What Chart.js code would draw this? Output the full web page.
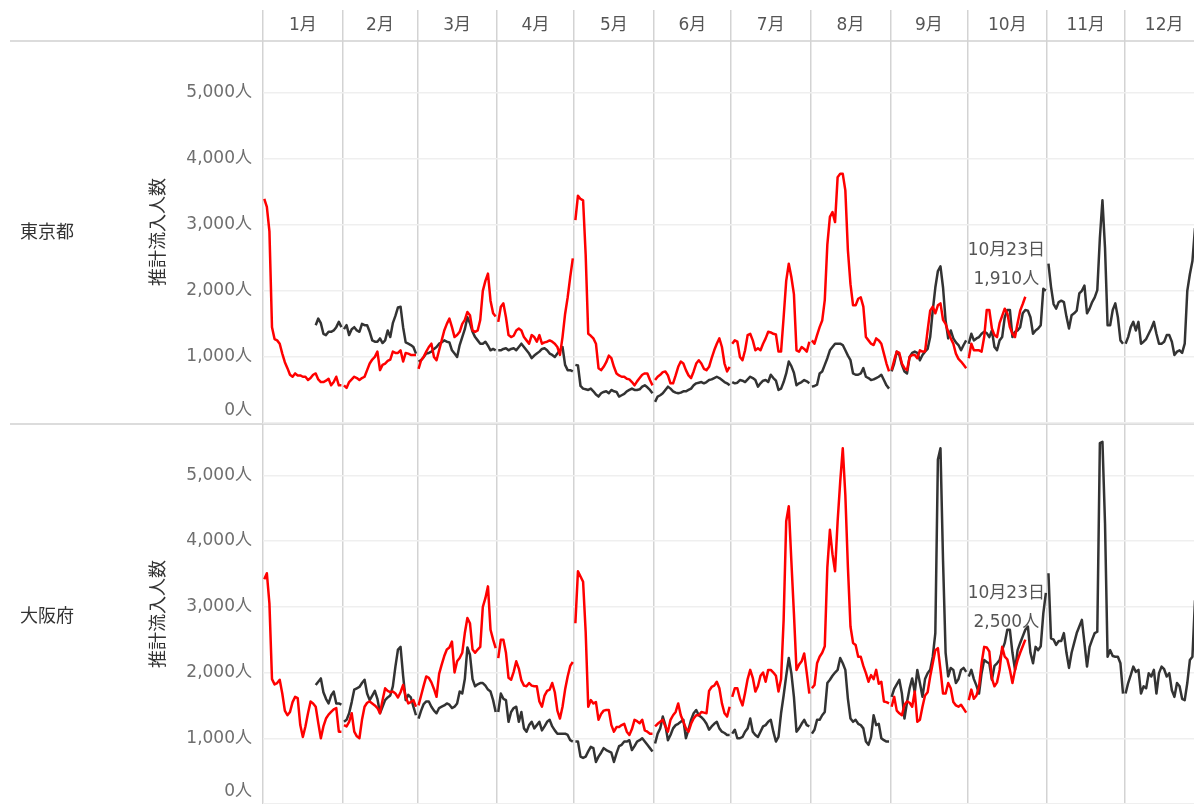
<!DOCTYPE html>
<html><head><meta charset="utf-8">
<script src="https://cdn.jsdelivr.net/npm/chart.js@4.4.1/dist/chart.umd.min.js"></script>
<style>
html,body{margin:0;padding:0;background:#fff;width:1194px;height:804px;overflow:hidden;}
#wrap{position:relative;width:1194px;height:804px;overflow:hidden;}
canvas{position:absolute;left:0;}
.rule{position:absolute;left:10px;width:1184px;height:2px;background:#dcdcdc;}
.row{position:absolute;left:20px;font-family:"Noto Sans CJK JP",sans-serif;font-size:18px;color:#333;line-height:20px;}
</style></head><body>
<div id="wrap">
<div class="rule" style="top:40px"></div>
<div class="rule" style="top:423px"></div>
<canvas id="c1" width="1210" height="440" style="top:0;width:1210px;height:440px"></canvas>
<canvas id="c2" width="1210" height="400" style="top:424px;width:1210px;height:400px"></canvas>
<div class="row" style="top:220px">東京都</div>
<div class="row" style="top:604px">大阪府</div>
</div>
<script>
// ---------- data ----------
const months = ['1月','2月','3月','4月','5月','6月','7月','8月','9月','10月','11月','12月'];
const monthDays = [31,29,31,30,31,30,31,31,30,31,30,31];
const yTicks = [0,1000,2000,3000,4000,5000];
const redFirstDay = 1;     // red series starts on Jan 1
const blackFirstDay = 21;  // black series starts on Jan 21

// 東京都 — red (Jan 1 – Oct 23)
const tokyoRed = [
  [3390,3270,2900,1450,1270,1250,1200,1050,920,830,730,700,750,720,720,700,700,650,680,730,750,660,620,620,640,670,570,620,700,570,570],
  [570,530,620,660,700,680,650,680,700,800,900,960,1000,1080,800,880,900,940,960,1080,1060,1060,1100,930,1060,1050,1030,1030,1030],
  [820,950,1000,1080,1150,1200,1000,950,1100,1250,1400,1500,1580,1450,1300,1330,1380,1500,1560,1680,1630,1400,1380,1400,1560,2000,2150,2260,1850,1660,1610],
  [1530,1760,1810,1600,1330,1300,1320,1400,1430,1400,1300,1250,1200,1330,1300,1230,1330,1200,1220,1230,1250,1230,1200,1150,1030,1300,1650,1900,2210,2490],
  [3070,3440,3390,3370,2550,1350,1320,1280,1200,830,800,850,920,1020,980,850,750,720,700,700,670,660,620,570,630,680,730,750,750,650,570],
  [650,700,730,770,780,720,600,600,720,850,930,900,800,720,680,780,900,950,900,820,800,850,980,1100,1200,1280,1150,900,780,850],
  [1200,1250,1230,1000,950,1100,1330,1350,1250,1100,1130,1100,1200,1280,1380,1370,1350,1340,1080,1080,1600,2150,2410,2210,1950,1100,1080,1150,1120,1080,1230],
  [1250,1200,1330,1450,1550,1860,2700,3120,3190,3040,3720,3770,3770,3520,2610,2100,1780,1780,1880,1900,1760,1300,1250,1200,1180,1280,1250,1200,1050,900,780],
  [800,950,1080,1060,900,830,800,1000,1030,1030,980,1100,1080,1080,1400,1700,1760,1660,1780,1810,1560,1500,1380,1280,1200,1050,970,930,880,830],
  [980,1200,1100,1100,1100,1080,1300,1710,1710,1430,1330,1300,1510,1620,1730,1660,1450,1350,1300,1510,1700,1800,1910]
];
// 東京都 — dark grey (Jan 21 – Dec)
const tokyoBlack = [
  [1480,1580,1510,1350,1330,1380,1380,1400,1450,1530,1450],
  [1420,1480,1330,1420,1450,1400,1380,1500,1480,1480,1380,1250,1230,1230,1280,1210,1250,1400,1300,1510,1620,1750,1760,1450,1220,1200,1180,1150,1050],
  [930,950,1000,1050,1060,1080,1120,1150,1200,1220,1250,1230,1220,1100,1050,1000,1180,1300,1420,1600,1510,1380,1300,1250,1200,1200,1230,1170,1100,1120,1100],
  [1100,1100,1120,1130,1100,1120,1130,1100,1150,1200,1150,1100,1050,980,1020,1050,1080,1120,1130,1100,1050,1030,1000,1050,1100,1150,880,800,800,780],
  [880,870,560,520,510,500,520,480,430,400,450,470,480,450,500,480,470,400,420,440,480,500,520,500,500,510,550,570,540,500,450],
  [320,400,420,450,500,550,520,480,460,450,460,480,480,500,520,570,600,610,620,600,620,650,660,680,700,680,650,620,600,570],
  [620,600,610,650,640,620,660,700,680,650,550,600,640,650,620,730,680,640,500,520,620,750,930,860,760,570,600,620,650,630,600],
  [550,560,580,750,780,880,980,1100,1150,1200,1200,1200,1180,1100,1020,950,750,730,730,750,830,700,680,650,660,680,700,730,650,570,520],
  [780,900,1080,1030,880,780,750,1000,1060,1080,1060,950,1030,1080,1120,1300,1700,2050,2300,2370,2050,1550,1280,1400,1280,1220,1180,1100,1180,1250],
  [1200,1350,1250,1280,1300,1350,1380,1360,1300,1400,1150,1100,1250,1300,1600,1710,1710,1300,1380,1400,1450,1660,1710,1700,1600,1350,1400,1430,1480,2030,2000],
  [2410,2060,1800,1730,1830,1850,1830,1610,1430,1630,1660,1700,1960,2000,2080,1660,1730,1830,1900,2010,2800,3370,2650,1480,1480,1710,1810,1600,1250,1200],
  [1200,1300,1450,1530,1400,1530,1200,1230,1270,1350,1430,1530,1350,1200,1200,1230,1330,1330,1230,1030,1080,1100,1060,1200,2000,2250,2450,2950]
];
// 大阪府 — red (Jan 1 – Oct 23)
const osakaRed = [
  [3420,3510,3050,1900,1820,1840,1890,1680,1420,1350,1400,1550,1630,1610,1200,1020,1180,1380,1560,1530,1480,1230,1000,1180,1300,1360,1400,1440,1460,1100,1100],
  [1200,1180,1250,1380,1100,1030,1000,1280,1480,1540,1560,1530,1500,1460,1380,1580,1760,1720,1700,1710,1680,1620,1700,1810,1630,1530,1550,1580,1480],
  [1500,1650,1800,1940,1920,1850,1750,1630,1980,2120,2250,2350,2380,2470,2000,2170,2220,2300,2600,2830,2750,2350,2300,2350,2390,3000,3130,3310,2650,2500,2370],
  [2220,2500,2500,2300,1920,1890,2010,2170,2060,1880,1800,1790,1840,1800,1790,1790,1560,1480,1650,1720,1740,1840,1700,1420,1300,1480,1740,1940,2100,2160],
  [2750,3540,3460,3380,2620,1480,1580,1530,1550,1280,1370,1420,1430,1430,1200,1100,1170,1170,1200,1220,1100,1050,1140,1280,1260,1230,1280,1120,1100,1070,1070],
  [1180,1220,1250,1280,1180,1100,1280,1350,1400,1530,1350,1250,1150,1100,1220,1300,1350,1350,1400,1390,1380,1720,1780,1800,1860,1760,1530,1380,1330,1480],
  [1630,1760,1760,1600,1500,1690,1900,2040,1920,1710,1790,1950,2000,1860,2040,2040,2000,1950,1710,1900,2800,4300,4530,3700,2900,2040,2120,2170,2290,1990,1680],
  [1760,1810,2140,2240,2300,2400,3600,4170,3800,3540,4300,4900,5410,4700,3600,2700,2450,2420,2240,2240,2100,1990,1860,1960,1900,2040,1830,1860,1560,1550,1530],
  [1480,1630,1420,1380,1350,1510,1560,1540,1480,1710,1250,1280,1480,1650,1700,1940,2140,2340,2370,2040,1680,1680,1840,1760,1550,1500,1480,1510,1450,1390],
  [1580,1740,1600,1650,1790,2140,2390,2380,2320,1910,1790,1850,2040,2390,2240,2200,2040,1840,2040,2190,2300,2400,2500]
];
// 大阪府 — dark grey (Jan 21 – Dec)
const osakaBlack = [
  [1810,1860,1910,1700,1600,1530,1650,1710,1530,1530,1510],
  [1250,1280,1380,1550,1740,1760,1780,1840,1890,1680,1580,1650,1720,1600,1380,1480,1580,1620,1650,1790,2090,2350,2390,1950,1580,1660,1620,1480,1350],
  [1300,1420,1520,1560,1560,1480,1420,1380,1460,1480,1500,1530,1510,1460,1480,1530,1710,1680,1900,2380,2270,1900,1790,1820,1840,1840,1800,1740,1710,1580,1400],
  [1400,1680,1600,1580,1250,1400,1460,1480,1250,1400,1150,1100,1200,1250,1150,1200,1250,1120,1180,1250,1280,1180,1120,1070,1070,1070,1070,1050,970,950],
  [950,950,720,700,720,800,870,850,640,720,780,850,820,800,780,640,770,880,900,950,950,970,820,880,950,970,1000,950,900,850,800],
  [920,1070,1150,1330,1200,970,1050,1150,1200,1220,1250,1280,1000,1130,1280,1380,1430,1350,1320,1280,1220,1130,1180,1220,1250,1150,1100,1080,1050,1050],
  [1070,1130,1000,1000,1020,1100,1150,1300,1100,1050,1020,1100,1180,1200,1250,1280,1100,950,1020,1380,1650,1950,2220,1990,1630,1100,1150,1220,1280,1200,1180],
  [1070,1130,1280,1280,1350,1400,1840,1890,1950,2000,2040,2220,2140,2040,1600,1300,1250,1280,1220,1200,1150,950,900,1020,1350,1200,1220,1000,970,950,950],
  [1630,1750,1820,1890,1680,1300,1550,1760,1910,1700,2040,1840,1630,1900,1990,2040,2240,2600,5240,5410,3700,2300,1940,2070,2040,1840,1900,2040,2070,2010],
  [1940,2040,1900,1800,1680,1990,2190,2160,2140,1890,2100,2140,2190,2340,2450,2650,2650,2300,2040,2340,2450,2550,2650,2700,2300,2140,2390,2340,2400,2900,3210],
  [3510,2520,2500,2420,2480,2480,2600,2300,2070,2300,2450,2600,2700,2800,2450,2090,2390,2500,2600,2620,5490,5510,4270,2240,2340,2250,2240,2240,2140,1680],
  [1680,1840,1960,2090,2010,2040,1680,1790,1760,1990,1940,2040,1680,1990,2090,2050,1940,1990,1730,1630,1840,1790,1600,1580,1840,2190,2240,3100]
];

// ---------- helpers ----------
const FONT = '"DejaVu Sans", "Noto Sans CJK JP", sans-serif';
const CJK = '"Noto Sans CJK JP", sans-serif';
const Y_MAX = 5780;
const PAD_LEFT = 146;
const bounds = [0];
monthDays.forEach(d => bounds.push(bounds[bounds.length - 1] + d));
const mids = monthDays.map((d, i) => bounds[i] + d / 2);

function buildSeries(monthArrays, firstDay) {
  const pts = [];
  monthArrays.forEach((vals, m) => {
    const start = m === 0 ? firstDay - 1 : 0;
    vals.forEach((v, i) => pts.push({x: bounds[m] + start + i + 0.5, y: v}));
    pts.push({x: bounds[m + 1], y: null});
  });
  return pts;
}

function lastLabel(redArr) {
  const m = redArr.length - 1;
  const d = redArr[m].length;
  const v = redArr[m][d - 1];
  return [(m + 1) + '月' + d + '日', v.toLocaleString('en-US') + '人'];
}

function annotPlugin(lines) {
  return {
    id: 'lastAnnot',
    afterDatasetsDraw(chart) {
      const ds = chart.data.datasets[0];
      const meta = chart.getDatasetMeta(0);
      let idx = -1;
      for (let i = ds.data.length - 1; i >= 0; i--) { if (ds.data[i].y != null) { idx = i; break; } }
      if (idx < 0) return;
      const el = meta.data[idx];
      const c = chart.ctx;
      c.save();
      c.font = '17px ' + FONT;
      c.fillStyle = '#555';
      c.textAlign = 'center';
      c.textBaseline = 'middle';
      c.fillText(lines[0], el.x - 19, el.y - 46);
      c.fillText(lines[1], el.x - 19, el.y - 17);
      c.restore();
    }
  };
}

Chart.defaults.font.family = FONT;

function makeChart(canvas, redArr, blackArr, isTop) {
  const yAxis = {
    min: 0, max: Y_MAX,
    afterBuildTicks: s => { s.ticks = yTicks.map(v => ({value: v})); },
    afterFit: s => { s.width = 263 - PAD_LEFT; s.paddingTop = 0; s.paddingBottom = 0; },
    grid: {color: '#efefef', lineWidth: 1.5, drawTicks: false},
    border: {display: false},
    ticks: {
      padding: 11, color: '#6e6e6e',
      font: ctx => ({family: FONT, size: 17, lineHeight: (ctx.tick && ctx.tick.value === 0) ? 1.45 : 1.2}),
      callback: v => v === 0 ? ['0人', ''] : v.toLocaleString('en-US') + '人'
    },
    title: {display: true, text: '推計流入人数', color: '#333', font: {family: CJK, size: 18}, padding: 0}
  };
  const xAxis = isTop ? {
    type: 'linear', position: 'top', min: 0, max: bounds[12],
    afterBuildTicks: s => { s.ticks = [...bounds, ...mids].sort((a, b) => a - b).map(v => ({value: v})); },
    afterFit: s => { s.height = 41; s.paddingLeft = 0; s.paddingRight = 0; },
    grid: {
      color: ctx => (ctx.tick && bounds.includes(ctx.tick.value)) ? '#d3d3d3' : 'rgba(0,0,0,0)',
      lineWidth: 1.5, tickLength: 31, drawTicks: true
    },
    border: {display: false},
    ticks: {
      autoSkip: false, maxRotation: 0, minRotation: 0, padding: -26, color: '#555',
      font: {family: FONT, size: 17},
      callback: v => { const i = mids.indexOf(v); return i >= 0 ? months[i] : ''; }
    }
  } : {
    type: 'linear', position: 'bottom', min: 0, max: bounds[12],
    afterBuildTicks: s => { s.ticks = bounds.map(v => ({value: v})); },
    afterFit: s => { s.height = 0; s.paddingLeft = 0; s.paddingRight = 0; },
    grid: {color: '#d3d3d3', lineWidth: 1.5, drawTicks: false},
    border: {display: false},
    ticks: {display: false}
  };
  return new Chart(canvas, {
    type: 'line',
    data: {
      datasets: [
        {label: 'red', data: buildSeries(redArr, redFirstDay), borderColor: '#ff0000', borderWidth: 2.5, pointRadius: 0, tension: 0, order: 0, spanGaps: false, borderJoinStyle: 'round'},
        {label: 'black', data: buildSeries(blackArr, blackFirstDay), borderColor: '#333333', borderWidth: 2.5, pointRadius: 0, tension: 0, order: 1, spanGaps: false, borderJoinStyle: 'round'}
      ]
    },
    options: {
      responsive: false, animation: false, devicePixelRatio: 1,
      layout: {autoPadding: false, padding: {left: PAD_LEFT, right: 6, top: 0, bottom: isTop ? 17 : 20}},
      plugins: {legend: {display: false}, tooltip: {enabled: false}},
      scales: {x: xAxis, y: yAxis}
    },
    plugins: [annotPlugin(lastLabel(redArr))]
  });
}

makeChart(document.getElementById('c1'), tokyoRed, tokyoBlack, true);
makeChart(document.getElementById('c2'), osakaRed, osakaBlack, false);
</script>
</body></html>
